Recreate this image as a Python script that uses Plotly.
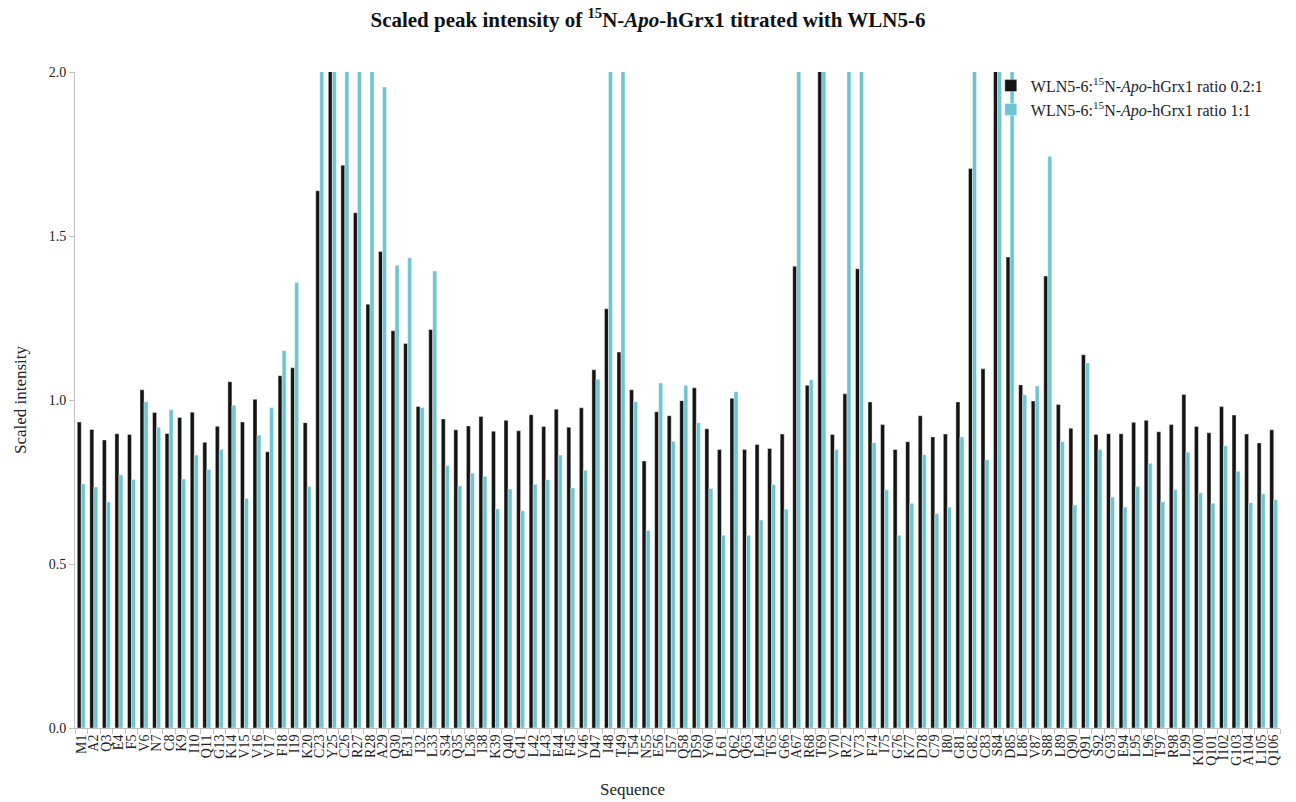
import plotly.graph_objects as go

residues = ["M1", "A2", "Q3", "E4", "F5", "V6", "N7", "C8", "K9", "I10",
            "Q11", "G13", "K14", "V15", "V16", "V17", "F18", "I19", "K20", "C23",
            "Y25", "C26", "R27", "R28", "A29", "Q30", "E31", "I32", "L33", "S34",
            "Q35", "L36", "I38", "K39", "Q40", "G41", "L42", "L43", "E44", "F45",
            "V46", "D47", "I48", "T49", "T54", "N55", "E56", "I57", "Q58", "D59",
            "Y60", "L61", "Q62", "Q63", "L64", "T65", "G66", "A67", "R68", "T69",
            "V70", "R72", "V73", "F74", "I75", "G76", "K77", "D78", "C79", "I80",
            "G81", "G82", "C83", "S84", "D85", "L86", "V87", "S88", "L89", "Q90",
            "Q91", "S92", "G93", "E94", "L95", "L96", "T97", "R98", "L99", "K100",
            "Q101", "I102", "G103", "A104", "L105", "Q106"]

# values above 2.0 are clipped by the axis range in the original chart
ratio_02 = [0.933, 0.910, 0.878, 0.897, 0.895, 1.031, 0.962, 0.898, 0.947, 0.963,
            0.871, 0.920, 1.056, 0.933, 1.002, 0.842, 1.074, 1.098, 0.931, 1.638,
            2.300, 1.716, 1.571, 1.292, 1.453, 1.211, 1.172, 0.980, 1.215, 0.942,
            0.909, 0.921, 0.950, 0.905, 0.938, 0.906, 0.955, 0.919, 0.972, 0.917,
            0.976, 1.092, 1.278, 1.146, 1.031, 0.814, 0.964, 0.952, 0.998, 1.037,
            0.912, 0.849, 1.005, 0.849, 0.864, 0.852, 0.896, 1.408, 1.045, 2.300,
            0.895, 1.019, 1.400, 0.994, 0.925, 0.849, 0.873, 0.952, 0.887, 0.896,
            0.994, 1.706, 1.095, 2.300, 1.436, 1.046, 0.997, 1.378, 0.986, 0.914,
            1.138, 0.895, 0.897, 0.897, 0.932, 0.938, 0.903, 0.925, 1.017, 0.919,
            0.900, 0.980, 0.954, 0.896, 0.869, 0.909]

ratio_11 = [0.744, 0.735, 0.689, 0.772, 0.758, 0.995, 0.917, 0.970, 0.759, 0.832,
            0.788, 0.850, 0.984, 0.700, 0.893, 0.977, 1.150, 1.358, 0.736, 2.300,
            2.300, 2.300, 2.300, 2.300, 1.954, 1.411, 1.434, 0.977, 1.393, 0.800,
            0.738, 0.777, 0.767, 0.668, 0.729, 0.662, 0.743, 0.757, 0.832, 0.732,
            0.786, 1.063, 2.300, 2.300, 0.995, 0.602, 1.052, 0.874, 1.044, 0.931,
            0.730, 0.588, 1.025, 0.588, 0.634, 0.742, 0.667, 2.300, 1.062, 2.300,
            0.849, 2.300, 2.300, 0.870, 0.726, 0.588, 0.685, 0.833, 0.654, 0.673,
            0.887, 2.300, 0.818, 2.300, 2.300, 1.016, 1.043, 1.743, 0.873, 0.680,
            1.113, 0.849, 0.704, 0.674, 0.736, 0.807, 0.690, 0.727, 0.841, 0.717,
            0.685, 0.860, 0.783, 0.687, 0.714, 0.696]

y_ticks = [0.0, 0.5, 1.0, 1.5, 2.0]

FONT = "Liberation Serif"

fig = go.Figure()
fig.add_trace(go.Bar(
    x=residues, y=ratio_02,
    name="WLN5-6:<sup>15</sup>N-<i>Apo</i>-hGrx1 ratio 0.2:1",
    marker=dict(color="#141414", line=dict(color="#ffffff", width=0.4)),
))
fig.add_trace(go.Bar(
    x=residues, y=ratio_11,
    name="WLN5-6:<sup>15</sup>N-<i>Apo</i>-hGrx1 ratio 1:1",
    marker=dict(color="#6ec5cf", line=dict(color="#ffffff", width=0.4)),
))

fig.update_layout(
    width=1296, height=802,
    margin=dict(l=75, r=16, t=72, b=74),
    paper_bgcolor="white", plot_bgcolor="white",
    font=dict(family=FONT, size=14, color="#222222"),
    barmode="group", bargap=0.36, bargroupgap=0.0,
    title=dict(
        text="<b>Scaled peak intensity of <sup>15</sup>N-<i>Apo</i>-hGrx1 titrated with WLN5-6</b>",
        x=0.5, xanchor="center", y=0.976, yanchor="middle",
        font=dict(family=FONT, size=21, color="#111111"),
    ),
    legend=dict(
        x=0.760, y=1.005, xanchor="left", yanchor="top",
        bgcolor="rgba(255,255,255,0)", font=dict(family=FONT, size=16, color="#222222"),
        itemwidth=30, tracegroupgap=0,
    ),
    showlegend=True,
    annotations=[
        dict(text="Sequence", xref="paper", yref="paper", x=(632 - 75) / 1205, y=-0.094,
             xanchor="center", yanchor="middle", showarrow=False,
             font=dict(family=FONT, size=17, color="#222222")),
        dict(text="Scaled intensity", xref="paper", yref="paper", x=-0.0456, y=0.5,
             xanchor="center", yanchor="middle", showarrow=False, textangle=-90,
             font=dict(family=FONT, size=17, color="#222222")),
    ],
)

fig.update_xaxes(
    type="category", tickmode="array", tickvals=residues, ticktext=residues,
    tickangle=-90, tickson="boundaries",
    ticks="outside", ticklen=5, tickcolor="#bfbfbf",
    showline=True, linecolor="#bfbfbf", linewidth=1,
    showgrid=False, tickfont=dict(family=FONT, size=14, color="#222222"),
)
fig.update_yaxes(
    range=[0, 2.0], tickvals=y_ticks, ticktext=[f"{v:.1f}" for v in y_ticks],
    ticks="outside", ticklen=5, tickcolor="#bfbfbf",
    showline=True, linecolor="#bfbfbf", linewidth=1,
    showgrid=False, zeroline=False,
    tickfont=dict(family=FONT, size=14, color="#222222"),
)

fig.write_html("out.html")
